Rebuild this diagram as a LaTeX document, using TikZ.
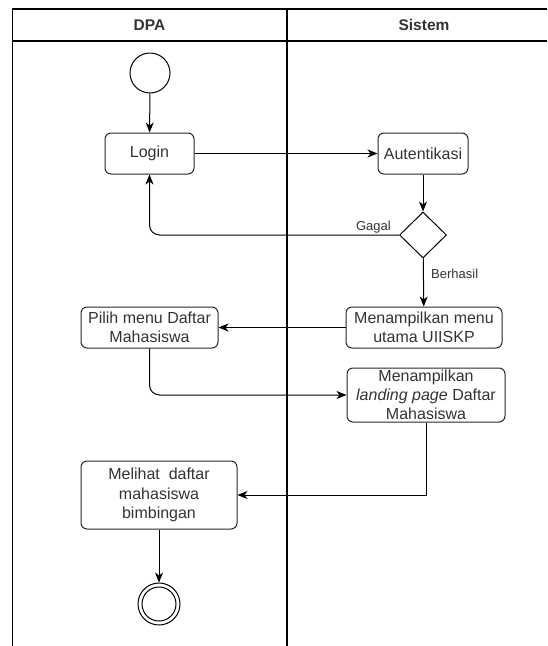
\documentclass[tikz,border=0pt]{standalone}
\usepackage{fontspec}
\setmainfont{Liberation Sans}
\usetikzlibrary{arrows.meta,shapes.geometric}
\begin{document}
\begin{tikzpicture}[x=1pt,y=-1pt,
  box/.style={draw=black!85, line width=1pt, rounded corners=6pt, align=center,
    font=\fontsize{16}{19.2}\selectfont, text=black!80, inner sep=0pt},
  conn/.style={line width=1pt, -{Stealth[length=10pt,width=8pt,inset=3pt]}},
  lbl/.style={font=\fontsize{13}{15}\selectfont, text=black!80, inner sep=0pt},
  hdr/.style={font=\fontsize{15.5}{18}\selectfont\bfseries, text=black!80, inner sep=0pt},
  lane/.style={line width=1.2pt}]
\useasboundingbox (0,0) rectangle (547,646);
% swimlanes
\draw[lane] (547,9) -- (12.5,9) -- (12.5,646);
\draw[lane] (12.5,41) -- (547,41);
\draw[lane] (287,9) -- (287,646);
\node[hdr] (h1) at (149.5,25) {DPA};
\node[hdr] (h2) at (424,25) {Sistem};
% nodes
\node[circle, draw, line width=1pt, minimum size=40pt, inner sep=0pt] (start) at (150,73) {};
\node[box, minimum width=89pt, minimum height=41pt] (login) at (149.5,153.5) {Login};
\node[box, minimum width=90pt, minimum height=41pt] (auth) at (423,153.5) {Autentikasi};
\node[diamond, draw, line width=1pt, minimum width=47pt, minimum height=46pt, inner sep=0pt] (dec) at (423,235) {};
\node[box, minimum width=156pt, minimum height=41pt] (menu) at (424,327.5) {Menampilkan menu\\utama UIISKP};
\node[box, minimum width=137pt, minimum height=41pt] (pilih) at (149.5,327.5) {Pilih menu Daftar\\Mahasiswa};
\node[box, minimum width=158pt, minimum height=54pt] (land) at (426,395) {Menampilkan\\\textit{landing page} Daftar\\Mahasiswa};
\node[box, minimum width=156pt, minimum height=68pt] (lihat) at (159,495) {Melihat\ \ daftar\\mahasiswa\\bimbingan};
\node[circle, draw, line width=1pt, minimum size=42pt, inner sep=0pt] (end) at (159,604) {};
\draw[line width=1pt] (end.center) circle[radius=17pt];
% connectors
\draw[conn] (start) -- (login);
\draw[conn] (login) -- (auth);
\draw[conn] (auth) -- (dec);
\draw[conn, rounded corners=10pt] (dec.west) -| (login.south);
\node[lbl, anchor=east] (gagal) at (391,227) {Gagal};
\draw[conn] (dec) -- (menu);
\node[lbl, anchor=west] (berhasil) at (431,274) {Berhasil};
\draw[conn] (menu) -- (pilih);
\draw[conn, rounded corners=10pt] (pilih.south) |- (land.west);
\draw[conn] (land.south) |- (lihat.east);
\draw[conn] (lihat) -- (end);
\end{tikzpicture}
\end{document}
